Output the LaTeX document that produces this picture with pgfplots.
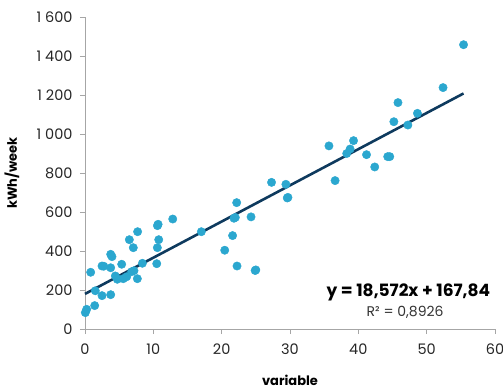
\documentclass[border=0pt]{standalone}
\usepackage{pgfplots}
\pgfplotsset{compat=1.18}
\usepackage{fontspec}
\setmainfont{Poppins}
\definecolor{mk}{HTML}{2BA7CF}
\definecolor{ln}{HTML}{0E3A5E}
\definecolor{ax}{HTML}{A6A6A6}
\begin{document}
\begin{tikzpicture}
\path[use as bounding box] (-85pt,-60pt) rectangle (418pt,329pt);
\begin{axis}[
  scale only axis, width=410pt, height=312pt,
  anchor=south west, at={(0,0)},
  xmin=0, xmax=60, ymin=0, ymax=1600,
  axis x line*=bottom, axis y line*=left,
  axis line style={ax, line width=0.8pt},
  tick style={ax, line width=0.8pt},
  tick align=outside, major tick length=5pt,
  xtick={0,10,...,60}, ytick={0,200,...,1600},
  xticklabels={0,10,20,30,40,50,60},
  yticklabels={0,200,400,600,800,1 000,1 200,1 400,1 600},
  ticklabel style={font=\fontsize{14.5}{14.5}\selectfont, text=black!85},
  xticklabel style={yshift=-6pt},
  yticklabel style={xshift=-4pt},
  xlabel={\textbf{variable}}, ylabel={\textbf{kWh/week}},
  label style={font=\fontsize{13}{13}\selectfont},
  xlabel style={at={(axis description cs:0.5,-0.1635)}, anchor=center},
  ylabel style={at={(axis description cs:-0.178,0.5)}, anchor=center},
  clip=false,
]
\addplot[only marks, mark=*, mark size=4.2pt, mark options={draw=mk, fill=mk}] coordinates {
(12.84,564) (10.6,530) (10.7,537) (7.7,499) (6.49,458) (10.79,458)
(3.76,383) (3.95,371) (7.07,417) (10.59,417) (0.83,291) (2.49,323) (2.75,322)
(3.76,314) (5.37,332) (8.4,337) (10.5,335) (4.44,272) (4.73,255) (5.6,258)
(6.1,268) (6.83,294) (7.17,299) (7.66,258) (1.51,196) (2.49,171) (3.76,176)
(1.42,120) (0.24,101) (0.05,84) (17.03,499)
(22.2,648) (21.8,568) (22.0,572) (24.3,575) (21.6,479) (20.45,404) (22.25,323) (25.0,303) (24.9,300)
(27.3,752) (29.4,742) (29.6,672) (29.7,675) (36.6,761) (38.3,900)
(55.4,1458) (52.4,1238) (45.8,1161) (48.65,1106) (45.2,1063) (47.25,1046)
(35.7,939) (39.3,966) (38.8,923) (41.2,894) (44.3,884) (44.6,884) (42.4,831)
};
\addplot[ln, line width=2.6pt] coordinates {(0,180) (55.4,1208)};
\node[anchor=east, font=\fontsize{17}{17}\selectfont\bfseries] at (axis cs:59.8,190) {y = 18,572x + 167,84};
\node[font=\fontsize{14}{14}\selectfont, text=black!80] at (axis cs:46.85,87) {R² = 0,8926};
\end{axis}
\end{tikzpicture}
\end{document}
